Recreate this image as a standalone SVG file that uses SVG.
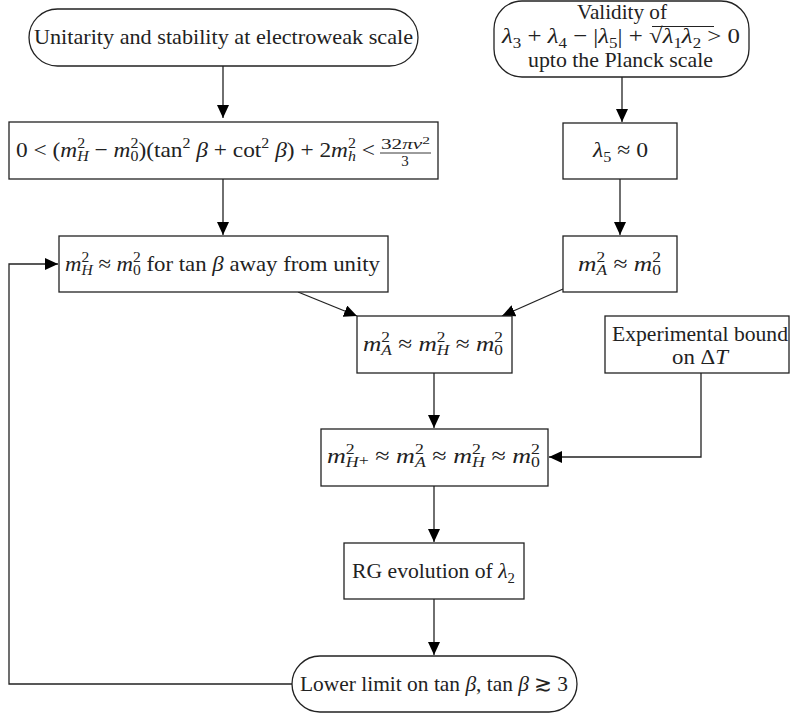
<svg xmlns="http://www.w3.org/2000/svg" width="790" height="715" viewBox="0 0 790 715">
<defs>
<marker id="ah" markerUnits="userSpaceOnUse" markerWidth="14" markerHeight="12" refX="13" refY="6" orient="auto">
<path d="M0,0 L13,6 L0,12 Z" fill="#000"/>
</marker>
<style>
.box{fill:#fff;stroke:#222;stroke-width:1.3}
.t{font-family:"Liberation Serif","DejaVu Serif",serif;font-size:22px;fill:#222}
.i{font-style:italic}
.s{font-size:15px}
.e{fill:none;stroke:#222;stroke-width:1.3}
</style>
</defs>
<rect width="790" height="715" fill="#fff"/>
<g id="edges">
<path class="e" d="M223,66 V118" marker-end="url(#ah)"/>
<path class="e" d="M622,77 V122" marker-end="url(#ah)"/>
<path class="e" d="M223,179 V235" marker-end="url(#ah)"/>
<path class="e" d="M620,179 V235" marker-end="url(#ah)"/>
<path class="e" d="M298,292 L357,316" marker-end="url(#ah)"/>
<path class="e" d="M563,289 L502,316" marker-end="url(#ah)"/>
<path class="e" d="M434,373 V428" marker-end="url(#ah)"/>
<path class="e" d="M701,373 V457 H549" marker-end="url(#ah)"/>
<path class="e" d="M434,486 V542" marker-end="url(#ah)"/>
<path class="e" d="M434,599 V655" marker-end="url(#ah)"/>
<path class="e" d="M292,684 H9 V264 H58" marker-end="url(#ah)"/>
</g>
<g id="n1">
<rect class="box" x="29" y="9" width="389" height="57" rx="28.5"/>
<text class="t" x="34" y="44" textLength="379" lengthAdjust="spacingAndGlyphs">Unitarity and stability at electroweak scale</text>
</g>
<g id="n2">
<rect class="box" x="494" y="1" width="255" height="76" rx="28"/>
<text class="t" x="577" y="19" textLength="90" lengthAdjust="spacingAndGlyphs">Validity of</text>
<text class="t" x="502" y="43" textLength="238" lengthAdjust="spacingAndGlyphs"><tspan class="i">λ</tspan><tspan class="s" dy="5">3</tspan><tspan dy="-5"> + </tspan><tspan class="i">λ</tspan><tspan class="s" dy="5">4</tspan><tspan dy="-5"> − |</tspan><tspan class="i">λ</tspan><tspan class="s" dy="5">5</tspan><tspan dy="-5">| + √</tspan><tspan class="i">λ</tspan><tspan class="s" dy="5">1</tspan><tspan class="i" dy="-5">λ</tspan><tspan class="s" dy="5">2</tspan><tspan dy="-5"> &gt; 0</tspan></text>
<line x1="652" y1="26.5" x2="714" y2="26.5" stroke="#222" stroke-width="1"/>
<text class="t" x="528" y="67" textLength="185" lengthAdjust="spacingAndGlyphs">upto the Planck scale</text>
</g>
<g id="n3">
<rect class="box" x="9" y="122" width="429" height="57"/>
<text class="t" x="16" y="157" textLength="359" lengthAdjust="spacingAndGlyphs">0 &lt; (<tspan class="i">m</tspan><tspan class="s" dy="-9">2</tspan><tspan class="s i" dx="-7.5" dy="13">H</tspan><tspan dy="-4"> − </tspan><tspan class="i">m</tspan><tspan class="s" dy="-9">2</tspan><tspan class="s" dx="-7.5" dy="13">0</tspan><tspan dy="-4">)(tan</tspan><tspan class="s" dy="-9">2</tspan><tspan dy="9"> </tspan><tspan class="i">β</tspan> + cot<tspan class="s" dy="-9">2</tspan><tspan dy="9"> </tspan><tspan class="i">β</tspan>) + 2<tspan class="i">m</tspan><tspan class="s" dy="-9">2</tspan><tspan class="s i" dx="-7.5" dy="13">h</tspan><tspan dy="-4"> &lt;</tspan></text>
<text class="t" x="381" y="149" style="font-size:15px" textLength="49" lengthAdjust="spacingAndGlyphs">32<tspan class="i">πv</tspan><tspan dy="-5" style="font-size:11px">2</tspan></text>
<line x1="380" y1="153" x2="431" y2="153" stroke="#222" stroke-width="0.9"/>
<text class="t" x="405" y="166" style="font-size:15px" text-anchor="middle">3</text>
</g>
<g id="n4">
<rect class="box" x="59" y="236" width="329" height="56"/>
<text class="t" x="65" y="271" textLength="315" lengthAdjust="spacingAndGlyphs"><tspan class="i">m</tspan><tspan class="s" dy="-9">2</tspan><tspan class="s i" dx="-7.5" dy="13">H</tspan><tspan dy="-4"> ≈ </tspan><tspan class="i">m</tspan><tspan class="s" dy="-9">2</tspan><tspan class="s" dx="-7.5" dy="13">0</tspan><tspan dy="-4"> for tan </tspan><tspan class="i">β</tspan> away from unity</text>
</g>
<g id="n5">
<rect class="box" x="563" y="123" width="114" height="56"/>
<text class="t" x="593" y="157" textLength="55" lengthAdjust="spacingAndGlyphs"><tspan class="i">λ</tspan><tspan class="s" dy="5">5</tspan><tspan dy="-5"> ≈ 0</tspan></text>
</g>
<g id="n6">
<rect class="box" x="563" y="236" width="114" height="56"/>
<text class="t" x="578" y="271" textLength="83" lengthAdjust="spacingAndGlyphs"><tspan class="i">m</tspan><tspan class="s" dy="-9">2</tspan><tspan class="s i" dx="-7.5" dy="13">A</tspan><tspan dy="-4"> ≈ </tspan><tspan class="i">m</tspan><tspan class="s" dy="-9">2</tspan><tspan class="s" dx="-7.5" dy="13">0</tspan></text>
</g>
<g id="n7">
<rect class="box" x="357" y="316" width="155" height="57"/>
<text class="t" x="363" y="351" textLength="140" lengthAdjust="spacingAndGlyphs"><tspan class="i">m</tspan><tspan class="s" dy="-9">2</tspan><tspan class="s i" dx="-7.5" dy="13">A</tspan><tspan dy="-4"> ≈ </tspan><tspan class="i">m</tspan><tspan class="s" dy="-9">2</tspan><tspan class="s i" dx="-7.5" dy="13">H</tspan><tspan dy="-4"> ≈ </tspan><tspan class="i">m</tspan><tspan class="s" dy="-9">2</tspan><tspan class="s" dx="-7.5" dy="13">0</tspan></text>
</g>
<g id="n8">
<rect class="box" x="605" y="316" width="184" height="57"/>
<text class="t" x="612" y="341" textLength="176" lengthAdjust="spacingAndGlyphs">Experimental bound</text>
<text class="t" x="672" y="364" textLength="56" lengthAdjust="spacingAndGlyphs">on Δ<tspan class="i">T</tspan></text>
</g>
<g id="n9">
<rect class="box" x="321" y="429" width="227" height="57"/>
<text class="t" x="327" y="463" textLength="213" lengthAdjust="spacingAndGlyphs"><tspan class="i">m</tspan><tspan class="s" dy="-9">2</tspan><tspan class="s i" dx="-7.5" dy="13">H</tspan><tspan class="s" dy="-2">+</tspan><tspan dy="-2"> ≈ </tspan><tspan class="i">m</tspan><tspan class="s" dy="-9">2</tspan><tspan class="s i" dx="-7.5" dy="13">A</tspan><tspan dy="-4"> ≈ </tspan><tspan class="i">m</tspan><tspan class="s" dy="-9">2</tspan><tspan class="s i" dx="-7.5" dy="13">H</tspan><tspan dy="-4"> ≈ </tspan><tspan class="i">m</tspan><tspan class="s" dy="-9">2</tspan><tspan class="s" dx="-7.5" dy="13">0</tspan></text>
</g>
<g id="n10">
<rect class="box" x="344" y="543" width="180" height="56"/>
<text class="t" x="352" y="578" textLength="163" lengthAdjust="spacingAndGlyphs">RG evolution of <tspan class="i">λ</tspan><tspan class="s" dy="5">2</tspan></text>
</g>
<g id="n11">
<rect class="box" x="292" y="656" width="285" height="56" rx="28"/>
<text class="t" x="300" y="691" textLength="268" lengthAdjust="spacingAndGlyphs">Lower limit on tan <tspan class="i">β</tspan>, tan <tspan class="i">β</tspan> ≳ 3</text>
</g>
</svg>
